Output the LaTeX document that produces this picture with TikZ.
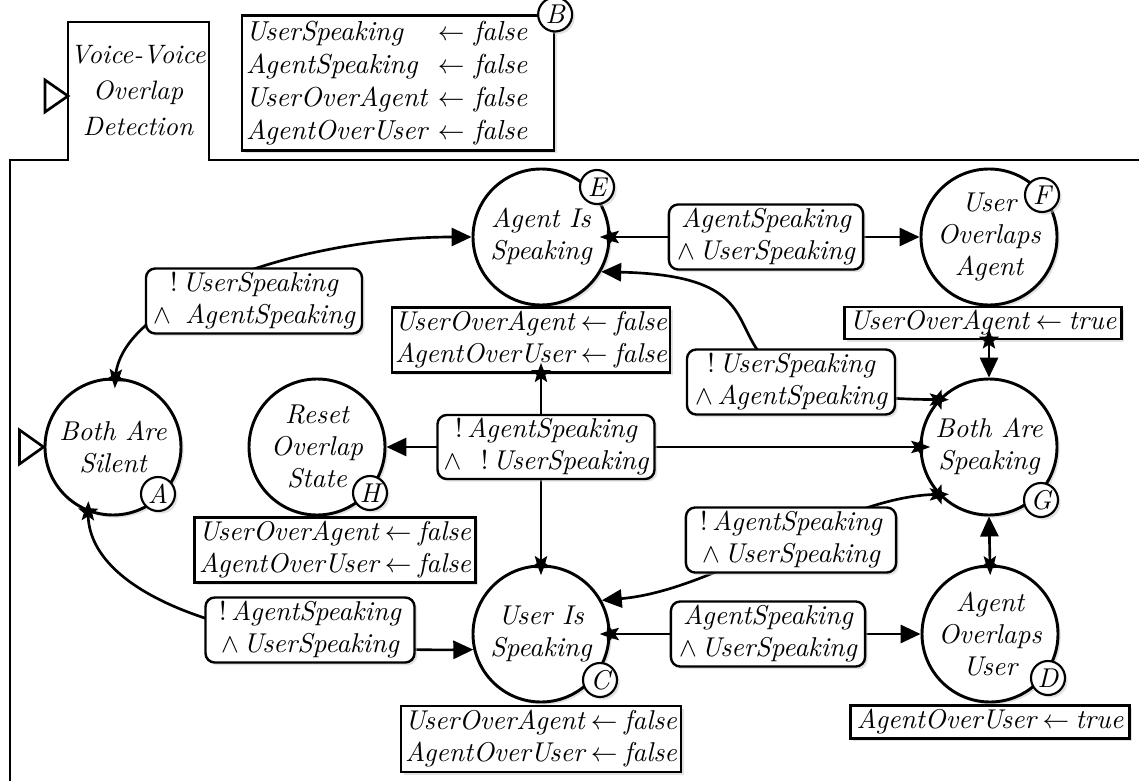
\documentclass[tikz,border=0pt]{standalone}
\usetikzlibrary{arrows.meta,shadows}

% layers: states and action boxes, then edges, then guard labels on top
\pgfdeclarelayer{edges}
\pgfdeclarelayer{front}
\pgfsetlayers{main,edges,front}

% five-pointed star marking the source end of a transition
\pgfdeclarearrow{
  name = StarTip,
  defaults = {length = 4pt},
  setup code = {
    \pgfarrowssettipend{0pt}
    \pgfarrowssetlineend{0pt}
    \pgfarrowssetbackend{-\pgfarrowlength}
    \pgfarrowshullpoint{\pgfarrowlength}{0pt}
    \pgfarrowshullpoint{-\pgfarrowlength}{0pt}
    \pgfarrowssavethe\pgfarrowlength
  },
  drawing code = {
    \pgfpathmoveto{\pgfpointpolar{0}{\pgfarrowlength}}
    \pgfpathlineto{\pgfpointpolar{36}{0.42\pgfarrowlength}}
    \pgfpathlineto{\pgfpointpolar{72}{\pgfarrowlength}}
    \pgfpathlineto{\pgfpointpolar{108}{0.42\pgfarrowlength}}
    \pgfpathlineto{\pgfpointpolar{144}{\pgfarrowlength}}
    \pgfpathlineto{\pgfpointpolar{180}{0.42\pgfarrowlength}}
    \pgfpathlineto{\pgfpointpolar{216}{\pgfarrowlength}}
    \pgfpathlineto{\pgfpointpolar{252}{0.42\pgfarrowlength}}
    \pgfpathlineto{\pgfpointpolar{288}{\pgfarrowlength}}
    \pgfpathlineto{\pgfpointpolar{324}{0.42\pgfarrowlength}}
    \pgfpathclose
    \pgfusepathqfill
  },
  parameters = {\the\pgfarrowlength},
}

\newcommand\negsym{\textup{!}\,}
\newcommand\andsym{$\wedge$}
\newcommand\setto{\hspace{2.4pt}$\leftarrow$\hspace{2.4pt}}

\tikzset{
  base/.style={font=\fontsize{10.2}{12}\selectfont\itshape},
  softshadow/.style={drop shadow={shadow xshift=1pt, shadow yshift=-1pt,
      fill=black!22, draw=none}},
  state/.style={base, circle, draw, line width=1.1pt, fill=white,
      minimum size=51pt, inner sep=0pt, align=center, softshadow},
  tag/.style={base, circle, draw, line width=0.8pt, fill=white,
      minimum size=12.75pt, inner sep=0pt, softshadow},
  cond/.style={base, draw, rounded corners=3.5pt, line width=0.9pt, fill=white,
      align=center, inner sep=0.5pt, minimum height=24.4pt, softshadow},
  act/.style={base, draw, line width=0.8pt, fill=white, align=left,
      inner sep=0.5pt, softshadow},
  trans/.style={line width=1pt, StarTip-{Triangle[length=7.5pt,width=6.8pt]}},
  link/.style={line width=1pt, StarTip-},
  initmark/.style={draw, line width=1pt, fill=white, line join=miter},
  framestyle/.style={line width=1.1pt, line join=miter},
}

\begin{document}
\begin{tikzpicture}[x=0.375pt, y=-0.375pt]
\fill[white] (0,0) rectangle (1139,781);
\useasboundingbox (0,0) rectangle (1139,781);

% region frame with its title tab, running off the page on the right and below
\draw[framestyle] (10,781) -- (10,160) -- (68,160) -- (68,22)
  -- (209,22) -- (209,160) -- (1139,160);
\node[font=\fontsize{10}{13.5}\selectfont\itshape, align=center] (title) at (138,91)
  {Voice-Voice\\Overlap\\Detection};
\draw[initmark] (68,96) -- (45,80) -- (45,112) -- cycle;

% initial variable assignments
\node[act, font=\fontsize{10.3}{12.4}\selectfont\itshape, anchor=west,
      minimum width=117pt, minimum height=49.9pt, align=left, text width=114pt]
      (init) at (241,83)
  {\begin{tabular}{@{}l@{\hspace{4pt}}l@{}}
   UserSpeaking & $\leftarrow$\ false\\
   AgentSpeaking & $\leftarrow$\ false\\
   UserOverAgent & $\leftarrow$\ false\\
   AgentOverUser & $\leftarrow$\ false
   \end{tabular}};
\node[tag] (tagB) at (init.north east) {B};

% states
\node[state] (A) at (113,447) {Both Are\\Silent};
\node[state] (H) at (317,447) {Reset\\Overlap\\State};
\node[state] (E) at (541,237) {Agent Is\\Speaking};
\node[state] (F) at (989,237) {User\\Overlaps\\Agent};
\node[state] (G) at (989,447) {Both Are\\Speaking};
\node[state] (C) at (541,634) {User Is\\Speaking};
\node[state] (D) at (990,634) {Agent\\Overlaps\\User};
\draw[initmark] (A.west) -- ++(-24,-17) -- ++(0,34) -- cycle;

\node[tag] (tagA) at (158,494) {A};
\node[tag] (tagH) at (370,493) {H};
\node[tag] (tagE) at (597,187) {E};
\node[tag] (tagF) at (1042,195) {F};
\node[tag] (tagG) at (1041,500) {G};
\node[tag] (tagC) at (600,680) {C};
\node[tag] (tagD) at (1048,678) {D};

% entry actions
\node[act, minimum width=104.3pt, minimum height=24.4pt] (actE) at (531,340)
  {UserOverAgent\setto false\\AgentOverUser\setto false};
\node[act, minimum width=105.4pt, minimum height=24.4pt] (actH) at (335,550)
  {UserOverAgent\setto false\\AgentOverUser\setto false};
\node[act, minimum width=105pt, minimum height=24.7pt] (actC) at (541,739)
  {UserOverAgent\setto false\\AgentOverUser\setto false};
\node[act, minimum width=103.9pt, minimum height=12pt] (actF) at (983,323)
  {UserOverAgent\setto true};
\node[act, minimum width=104.6pt, minimum height=12.4pt] (actD) at (990,722)
  {AgentOverUser\setto true};

% transition guards
\begin{pgfonlayer}{front}
\node[cond, minimum width=81pt] (c1) at (254,301)
  {\negsym UserSpeaking\\\andsym\ \,AgentSpeaking};
\node[cond, minimum width=72.8pt] (c2) at (766,237)
  {AgentSpeaking\\\andsym\,UserSpeaking};
\node[cond, minimum width=78pt] (c3) at (791,382)
  {\negsym UserSpeaking\\\andsym\,AgentSpeaking};
\node[cond, minimum width=81.4pt, minimum height=24pt] (c4) at (546,447)
  {\negsym AgentSpeaking\\\andsym\ \ \negsym UserSpeaking};
\node[cond, minimum width=78.8pt] (c5) at (791,540)
  {\negsym AgentSpeaking\\\andsym\,UserSpeaking};
\node[cond, minimum width=72.8pt] (c6) at (768,634)
  {AgentSpeaking\\\andsym\,UserSpeaking};
\node[cond, minimum width=78.4pt] (c7) at (310,630)
  {\negsym AgentSpeaking\\\andsym\,UserSpeaking};
\end{pgfonlayer}

% transitions
\begin{pgfonlayer}{edges}
\draw[trans] (A.88) .. controls (120,300) and (300,237) .. (E.180);
\draw[trans] (E.east) -- (F.west);
\draw[trans] (G.137) .. controls (645,398) and (835,277) .. (E.-30);
\draw[trans] (G.west) -- (H.east);
\draw[link] (actE.south -| C.north) -- (c4.north -| C.north);
\draw[link] (C.north) -- (c4.south -| C.north);
\draw[trans] (G.223) .. controls (840,495) and (720,590) .. (C.29);
\draw[trans] (C.east) -- (D.west);
\draw[trans] (A.249) .. controls (86,595) and (240,652) .. (C.193);
\draw[trans] (actF.south -| G.north) -- (G.north);
\draw[trans] (D.north) -- (G.south);
\end{pgfonlayer}
\end{tikzpicture}
\end{document}
